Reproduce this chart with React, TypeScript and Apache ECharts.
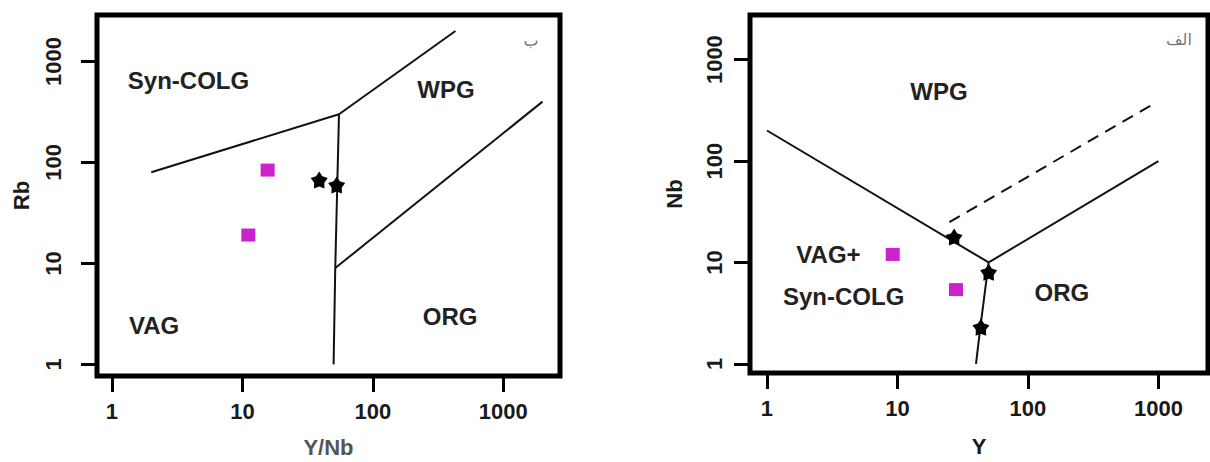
import React, { useEffect, useRef } from "react";
import * as echarts from "echarts";

// ---- Left diagram: Rb vs Y/Nb ----
const leftTicks = [1, 10, 100, 1000];
const leftSynColgVag = [[2, 80], [55, 300]];
const leftWpgUpper = [[55, 300], [430, 2000]];
const leftVertical = [[55, 300], [51.5, 9], [50, 1]];
const leftOrgWpg = [[51.5, 9], [2000, 400]];
const leftSquares = [[15.6, 84], [11.1, 19.1]];
const leftStars = [[38.8, 67], [52.8, 59.8]];
const leftRegionNames = ["Syn-COLG", "WPG", "VAG", "ORG", "ب"];
const leftRegionPos = [[3.86, 655], [364, 533], [2.1, 2.45], [391, 3.0], [1633, 1629]];

// ---- Right diagram: Nb vs Y ----
const rightTicks = [1, 10, 100, 1000];
const rightWpgVag = [[1, 200], [50, 10]];
const rightWpgOrg = [[50, 10], [1000, 100]];
const rightVagOrg = [[50, 10], [43, 2.2], [40, 1]];
const rightDashed = [[25, 25], [900, 360]];
const rightSquares = [[9.2, 12], [28.1, 5.4]];
const rightStars = [[27.2, 17.8], [50, 8.0], [43.6, 2.3]];
const rightRegionNames = ["WPG", "VAG+", "Syn-COLG", "ORG", "الف"];
const rightRegionPos = [[20.8, 480], [2.96, 12.1], [3.87, 4.6], [182, 5.04], [1436, 1564]];

// axis extents (log-scale limits)
const LX = [10 ** -0.115, 10 ** 3.435];
const LY = [10 ** -0.115, 10 ** 3.46];
const RX = [10 ** -0.13, 10 ** 3.38];
const RY = [10 ** -0.09, 10 ** 3.44];

const STAR =
  "path://M50,0 L67.6,25.7 L97.6,34.5 L78.5,59.3 L79.4,90.5 L50,80 L20.6,90.5 L21.5,59.3 L2.4,34.5 L32.4,25.7 Z";
const FONT = "Liberation Sans";
const MAGENTA = "#cc22cc";

function isPow10(v: number, ticks: number[]) {
  return ticks.some((t) => Math.abs(v - t) / t < 1e-6);
}

function logAxis(
  ext: number[],
  ticks: number[],
  gridIndex: number,
  name: string,
  nameGap: number,
  showLabels: boolean,
  nameColor: string,
  nameSize: number
) {
  return {
    type: "log",
    logBase: 10,
    gridIndex,
    min: ext[0],
    max: ext[1],
    name,
    nameLocation: "middle",
    nameGap,
    nameTextStyle: { fontFamily: FONT, fontSize: nameSize, fontWeight: "bold", color: nameColor },
    axisLine: { show: false },
    splitLine: { show: false },
    minorTick: { show: false },
    axisTick: { show: true, length: 16, lineStyle: { color: "#000", width: 3 }, customValues: ticks },
    axisLabel: {
      show: showLabels,
      showMinLabel: true,
      showMaxLabel: true,
      hideOverlap: false,
      margin: 24,
      fontFamily: FONT,
      fontSize: 22,
      fontWeight: "bold",
      color: "#1a1a1a",
      formatter: (v: number) => (isPow10(v, ticks) ? String(Math.round(v)) : ""),
    },
  };
}

// rotated y tick labels (R style, reading bottom-to-top)
function yTickLabelSeries(ticks: number[], xMin: number, idx: number, dist: number) {
  return {
    type: "scatter",
    xAxisIndex: idx,
    yAxisIndex: idx,
    clip: false,
    silent: true,
    symbolSize: 1,
    itemStyle: { color: "rgba(0,0,0,0)", opacity: 1 },
    data: ticks.map((t) => ({ name: String(t), value: [xMin, t] })),
    label: {
      show: true,
      position: "inside",
      offset: [0, -dist],
      rotate: 90,
      formatter: "{b}",
      fontFamily: FONT,
      fontSize: 22,
      fontWeight: "bold",
      color: "#1a1a1a",
    },
  };
}

function lineSeries(data: number[][], idx: number, dashed = false) {
  return {
    type: "line",
    xAxisIndex: idx,
    yAxisIndex: idx,
    data,
    symbol: "none",
    silent: true,
    lineStyle: { color: "#111", width: 2, type: dashed ? [12, 8] : "solid" },
  };
}

function labelSeries(names: string[], pos: number[][], idx: number) {
  return {
    type: "scatter",
    xAxisIndex: idx,
    yAxisIndex: idx,
    symbolSize: 1,
    itemStyle: { color: "rgba(0,0,0,0)", opacity: 1 },
    silent: true,
    z: 5,
    data: names.map((n, i) => ({
      name: n,
      value: pos[i],
      label:
        i === names.length - 1
          ? { fontFamily: "DejaVu Sans", fontSize: 16, fontWeight: "normal", color: "#777" }
          : undefined,
    })),
    label: {
      show: true,
      position: "inside",
      formatter: "{b}",
      fontFamily: FONT,
      fontSize: 24,
      fontWeight: "bold",
      color: "#222",
    },
  };
}

function pointSeries(data: number[][], idx: number, star: boolean) {
  return {
    type: "scatter",
    xAxisIndex: idx,
    yAxisIndex: idx,
    data,
    symbol: star ? STAR : "rect",
    symbolSize: star ? 17 : [14, 13],
    itemStyle: { color: star ? "#000" : MAGENTA, opacity: 1 },
    z: 4,
  };
}

export default function App() {
  const ref = useRef<HTMLDivElement>(null);
  useEffect(() => {
    if (!ref.current) return;
    const chart = echarts.init(ref.current, null, { renderer: "svg" });
    chart.setOption({
      animation: false,
      backgroundColor: "#fff",
      grid: [
        {
          left: 97, top: 15, width: 463, height: 361, show: true, borderColor: "#000", borderWidth: 5,
          backgroundColor: "transparent", containLabel: false, outerBoundsMode: "none",
        },
        {
          left: 750, top: 15, width: 458, height: 358, show: true, borderColor: "#000", borderWidth: 5,
          backgroundColor: "transparent", containLabel: false, outerBoundsMode: "none",
        },
      ],
      xAxis: [
        logAxis(LX, leftTicks, 0, "Y/Nb", 60, true, "#555", 22),
        logAxis(RX, rightTicks, 1, "Y", 62, true, "#1a1a1a", 22),
      ],
      yAxis: [
        logAxis(LY, leftTicks, 0, "Rb", 65, false, "#1a1a1a", 22),
        logAxis(RY, rightTicks, 1, "Nb", 65, false, "#1a1a1a", 22),
      ],
      series: [
        lineSeries(leftSynColgVag, 0),
        lineSeries(leftWpgUpper, 0),
        lineSeries(leftVertical, 0),
        lineSeries(leftOrgWpg, 0),
        pointSeries(leftSquares, 0, false),
        pointSeries(leftStars, 0, true),
        labelSeries(leftRegionNames, leftRegionPos, 0),
        yTickLabelSeries(leftTicks, LX[0], 0, 44),
        lineSeries(rightWpgVag, 1),
        lineSeries(rightWpgOrg, 1),
        lineSeries(rightVagOrg, 1),
        lineSeries(rightDashed, 1, true),
        pointSeries(rightSquares, 1, false),
        pointSeries(rightStars, 1, true),
        labelSeries(rightRegionNames, rightRegionPos, 1),
        yTickLabelSeries(rightTicks, RX[0], 1, 36),
      ],
    });
    return () => chart.dispose();
  }, []);
  return (
    <div
      ref={ref}
      style={{ position: "fixed", left: 0, top: 0, width: 1210, height: 462, background: "#fff" }}
    />
  );
}
